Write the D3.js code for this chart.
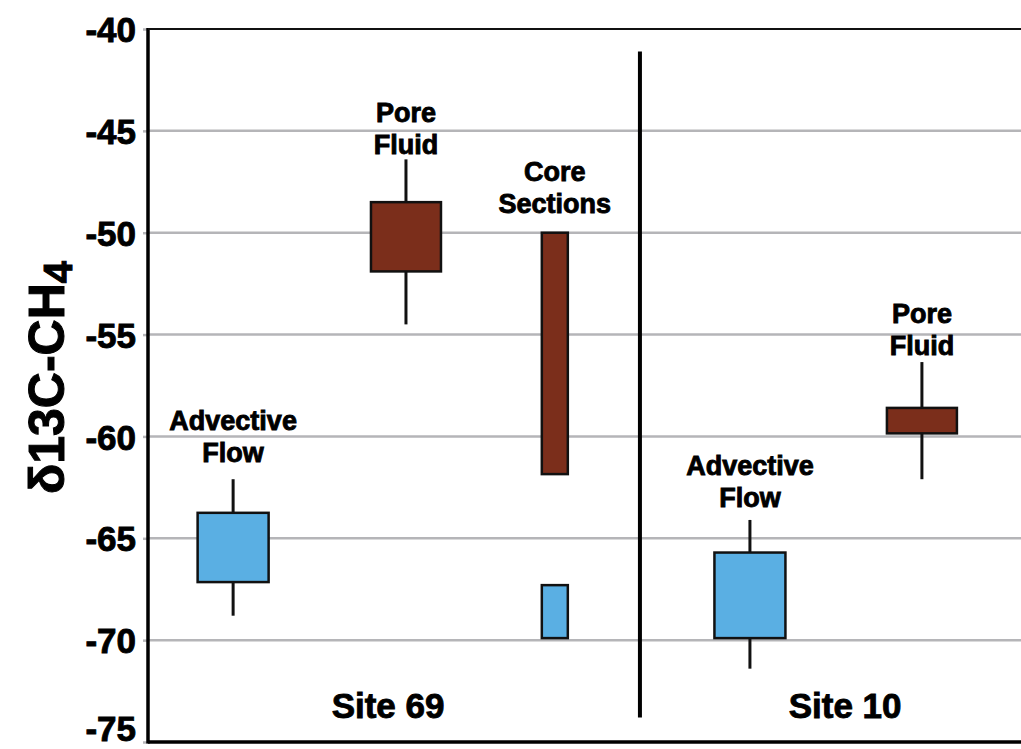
<!DOCTYPE html>
<html>
<head>
<meta charset="utf-8">
<script src="https://cdn.jsdelivr.net/npm/d3@7"></script>
<style>
  html, body { margin: 0; padding: 0; background: #fff; }
  svg { display: block; }
  text { font-family: "Liberation Sans", Arial, sans-serif; font-weight: bold; fill: #000; }
</style>
</head>
<body>
<svg id="chart" width="1021" height="749"></svg>
<script>
// ---------------- data ----------------
const labels      = [["Advective", "Flow"], ["Pore", "Fluid"], ["Core", "Sections"], ["Core", "Sections"], ["Advective", "Flow"], ["Pore", "Fluid"]];
const showLabel   = [true, true, true, false, true, true];
const sites       = ["Site 69", "Site 69", "Site 69", "Site 69", "Site 10", "Site 10"];
const kinds       = ["advective", "pore", "core", "core", "advective", "pore"];
const xPos        = [1.95, 5.91, 9.32, 9.32, 13.79, 17.73];          // position along x (arbitrary units 0..20)
const boxTop      = [-63.75, -48.5, -50.0, -67.3, -65.7, -58.6];
const boxBottom   = [-67.15, -51.9, -61.85, -69.9, -69.9, -59.85];
const whiskerTop  = [-62.1, -46.4, null, null, -64.1, -56.35];
const whiskerBot  = [-68.8, -54.5, null, null, -71.4, -62.1];
const labelAt     = [-61.26, -46.14, -49.03, null, -63.47, -56.0];     // baseline of last label line
const siteNames   = ["Site 69", "Site 10"];
const siteX       = [5.50, 15.97];
const siteY       = -73.8;
const dividerX    = 11.27;
const dividerSpan = [-41.1, -73.8];
const yTicks      = [-40, -45, -50, -55, -60, -65, -70, -75];
const yTitle      = "δ13C-CH";
const yTitleSub   = "4";

// ---------------- layout ----------------
const svg = d3.select("#chart");
const W = 1021, H = 749;
const margin = { left: 148, right: 0, top: 29, bottom: 7 };
const x = d3.scaleLinear().domain([0, 20]).range([margin.left, W - margin.right]);
const y = d3.scaleLinear().domain([-40, -75]).range([margin.top, H - margin.bottom]);

const colors = { advective: "#5AAFE3", pore: "#7B2E1B", core: "#7B2E1B" };
const coreColor = (i) => (boxTop[i] < -65 ? "#5AAFE3" : "#7B2E1B");
const widths = { advective: 71, pore: 70, core: 26 };

// gridlines
svg.append("g").selectAll("line").data(yTicks.filter(t => t !== -40 && t !== -75)).join("line")
  .attr("x1", x(0)).attr("x2", W)
  .attr("y1", d => y(d)).attr("y2", d => y(d))
  .attr("stroke", "#b5b5b8").attr("stroke-width", 2.5);

// y axis
const yAxis = d3.axisLeft(y).tickValues(yTicks).tickSize(5).tickPadding(8)
  .tickFormat(d => String(d).replace("\u2212", "-"));
const gy = svg.append("g").attr("transform", `translate(${x(0)},0)`).call(yAxis);
gy.select(".domain").remove();
gy.selectAll(".tick line").attr("stroke", "#b5b5b8").attr("stroke-width", 2.5);
gy.selectAll(".tick text")
  .attr("font-size", 35).attr("font-family", "Liberation Sans, Arial, sans-serif")
  .attr("font-weight", "bold").attr("fill", "#000")
  .attr("stroke", "#000").attr("stroke-width", 0.9)
  .attr("x", -12).attr("dy", d => d === -75 ? "-0.05em" : "0.36em");

// axis lines
svg.append("line").attr("x1", x(0)).attr("x2", x(0)).attr("y1", y(-40) - 1).attr("y2", y(-75) + 1.5)
  .attr("stroke", "#000").attr("stroke-width", 3.5);
svg.append("line").attr("x1", x(0)).attr("x2", W).attr("y1", y(-40)).attr("y2", y(-40))
  .attr("stroke", "#111").attr("stroke-width", 2);
svg.append("line").attr("x1", x(0)).attr("x2", W).attr("y1", y(-75)).attr("y2", y(-75))
  .attr("stroke", "#000").attr("stroke-width", 3.5);

// divider
svg.append("line").attr("x1", x(dividerX)).attr("x2", x(dividerX))
  .attr("y1", y(dividerSpan[0])).attr("y2", y(dividerSpan[1]))
  .attr("stroke", "#000").attr("stroke-width", 4);

const idx = d3.range(xPos.length);

// whiskers
svg.append("g").selectAll("line").data(idx.filter(i => whiskerTop[i] !== null)).join("line")
  .attr("x1", i => x(xPos[i])).attr("x2", i => x(xPos[i]))
  .attr("y1", i => y(whiskerTop[i])).attr("y2", i => y(whiskerBot[i]))
  .attr("stroke", "#111").attr("stroke-width", 3);

// boxes
svg.append("g").selectAll("rect").data(idx).join("rect")
  .attr("x", i => x(xPos[i]) - widths[kinds[i]] / 2)
  .attr("width", i => widths[kinds[i]])
  .attr("y", i => y(boxTop[i]))
  .attr("height", i => y(boxBottom[i]) - y(boxTop[i]))
  .attr("fill", i => kinds[i] === "core" ? coreColor(i) : colors[kinds[i]])
  .attr("stroke", "#111").attr("stroke-width", 2.5);

// box labels
const lab = svg.append("g").selectAll("text").data(idx.filter(i => showLabel[i])).join("text")
  .attr("text-anchor", "middle")
  .attr("font-size", 27)
  .attr("stroke", "#000").attr("stroke-width", 0.9)
  .attr("x", i => x(xPos[i]))
  .attr("y", i => y(labelAt[i]) - 32);
lab.each(function(i) {
  const t = d3.select(this);
  labels[i].forEach((s, k) => {
    t.append("tspan").attr("x", x(xPos[i])).attr("dy", k === 0 ? 0 : 32).text(s);
  });
});

// site labels
svg.append("g").selectAll("text").data(siteNames).join("text")
  .attr("x", (d, i) => x(siteX[i])).attr("y", y(siteY))
  .attr("text-anchor", "middle").attr("font-size", 35)
  .attr("stroke", "#000").attr("stroke-width", 0.9)
  .text(d => d);

// y title
const yt = svg.append("text")
  .attr("transform", `translate(64,${(y(-40) + y(-75)) / 2 - 8}) rotate(-90)`)
  .attr("text-anchor", "middle").attr("font-size", 50)
  .attr("stroke", "#000").attr("stroke-width", 1);
yt.append("tspan").text(yTitle);
yt.append("tspan").attr("font-size", 40).attr("dy", 8).text(yTitleSub);
</script>
</body>
</html>
